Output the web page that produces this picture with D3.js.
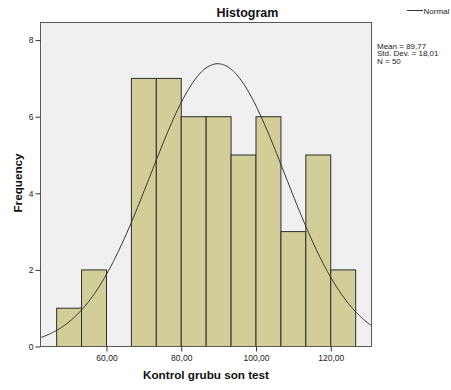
<!DOCTYPE html>
<html>
<head>
<meta charset="utf-8">
<script src="https://cdn.jsdelivr.net/npm/d3@7"></script>
<style>
  html, body { margin: 0; padding: 0; background: #ffffff; }
  svg { display: block; font-family: "Liberation Sans", Arial, sans-serif; }
</style>
</head>
<body>
<svg id="chart" width="451" height="390"></svg>
<script>
// Histogram bins (lower edge, upper edge) and counts
const binStarts = [46.667, 53.333, 60, 66.667, 73.333, 80, 86.667, 93.333, 100, 106.667, 113.333, 120];
const binWidth = 6.6667;
const counts = [1, 2, 0, 7, 7, 6, 6, 5, 6, 3, 5, 2];

// Summary statistics
const mean = 89.77;
const stdDev = 18.01;
const n = 50;

const xTicks = [60, 80, 100, 120];
const yTicks = [0, 2, 4, 6, 8];
const statLines = ["Mean = 89,77", "Std. Dev. = 18,01", "N = 50"];

const svg = d3.select("#chart");
const frame = { left: 40.5, right: 371.5, top: 22.5, bottom: 346.5 };

const x = d3.scaleLinear().domain([42.35, 130.9]).range([frame.left, frame.right]);
const y = d3.scaleLinear().domain([0, 8.46]).range([frame.bottom, frame.top]);

// plot background
svg.append("rect")
  .attr("x", frame.left).attr("y", frame.top)
  .attr("width", frame.right - frame.left).attr("height", frame.bottom - frame.top)
  .attr("fill", "#f0f0f0");

// bars
svg.append("g").selectAll("rect")
  .data(binStarts.map((s, i) => ({ s, c: counts[i] })).filter(d => d.c > 0))
  .join("rect")
  .attr("x", d => x(d.s))
  .attr("y", d => y(d.c))
  .attr("width", d => x(d.s + binWidth) - x(d.s))
  .attr("height", d => y(0) - y(d.c))
  .attr("fill", "#d3ce97")
  .attr("stroke", "#2e2e2e")
  .attr("stroke-width", 1);

// normal curve scaled to counts
const scaleK = n * binWidth / (stdDev * Math.sqrt(2 * Math.PI));
const curvePts = d3.range(0, 301).map(i => {
  const v = x.domain()[0] + (x.domain()[1] - x.domain()[0]) * i / 300;
  return [v, scaleK * Math.exp(-0.5 * Math.pow((v - mean) / stdDev, 2))];
});
svg.append("path")
  .datum(curvePts)
  .attr("fill", "none")
  .attr("stroke", "#333333")
  .attr("stroke-width", 1)
  .attr("d", d3.line().x(d => x(d[0])).y(d => y(d[1])));

// frame
svg.append("rect")
  .attr("x", frame.left).attr("y", frame.top)
  .attr("width", frame.right - frame.left).attr("height", frame.bottom - frame.top)
  .attr("fill", "none")
  .attr("stroke", "#5a5a5a")
  .attr("stroke-width", 1);

// y axis
const yAxis = svg.append("g")
  .attr("transform", `translate(${frame.left},0)`)
  .call(d3.axisLeft(y).tickValues(yTicks).tickSize(5).tickPadding(2).tickFormat(d3.format("d")));
yAxis.select(".domain").remove();
yAxis.selectAll("line").attr("stroke", "#333");
yAxis.selectAll("text").attr("font-size", 8.5).attr("fill", "#222")
  .attr("font-family", "'Liberation Sans', Arial, sans-serif");

// x axis
const xAxis = svg.append("g")
  .attr("transform", `translate(0,${frame.bottom})`)
  .call(d3.axisBottom(x).tickValues(xTicks).tickSize(5).tickPadding(3)
    .tickFormat(d => d3.format(".2f")(d).replace(".", ",")));
xAxis.select(".domain").remove();
xAxis.selectAll("line").attr("stroke", "#333");
xAxis.selectAll("text").attr("font-size", 8.5).attr("fill", "#222")
  .attr("font-family", "'Liberation Sans', Arial, sans-serif");

// title
svg.append("text")
  .attr("x", 247.5).attr("y", 17)
  .attr("text-anchor", "middle")
  .attr("font-size", 12.5).attr("font-weight", "bold").attr("fill", "#111")
  .text("Histogram");

// axis titles
svg.append("text")
  .attr("x", (frame.left + frame.right) / 2).attr("y", 379)
  .attr("text-anchor", "middle")
  .attr("font-size", 11.7).attr("font-weight", "bold").attr("fill", "#111")
  .text("Kontrol grubu son test");

svg.append("text")
  .attr("transform", `translate(22,183) rotate(-90)`)
  .attr("text-anchor", "middle")
  .attr("font-size", 11.7).attr("font-weight", "bold").attr("fill", "#111")
  .text("Frequency");

// statistics block
svg.append("g").selectAll("text")
  .data(statLines)
  .join("text")
  .attr("x", 377)
  .attr("y", (d, i) => 48.5 + i * 7.8)
  .attr("font-size", 8).attr("fill", "#222")
  .text(d => d);

// legend
svg.append("line")
  .attr("x1", 407).attr("x2", 423).attr("y1", 10.5).attr("y2", 10.5)
  .attr("stroke", "#333").attr("stroke-width", 1);
svg.append("text")
  .attr("x", 423.5).attr("y", 13.5)
  .attr("font-size", 8).attr("fill", "#222")
  .text("Normal");
</script>
</body>
</html>
